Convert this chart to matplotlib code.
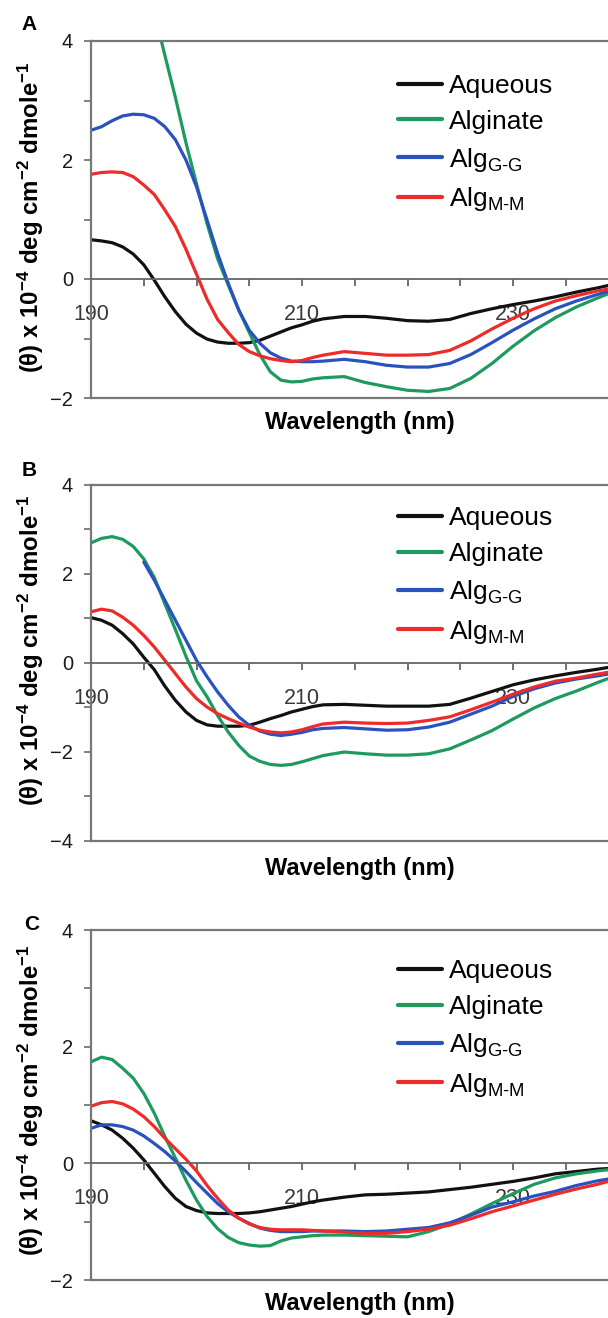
import numpy as np
import matplotlib
matplotlib.use('Agg')
import matplotlib.pyplot as plt
from matplotlib.ticker import MultipleLocator, FuncFormatter

plt.rcParams['font.family'] = ['Liberation Sans', 'DejaVu Sans']
plt.rcParams['mathtext.fontset'] = 'custom'
plt.rcParams['mathtext.rm'] = 'Liberation Sans'
plt.rcParams['mathtext.it'] = 'Liberation Sans:italic'
plt.rcParams['mathtext.bf'] = 'Liberation Sans:bold'

# wavelengths (nm) shared by all curves
wavelength = list(range(190, 213)) + list(range(214, 239, 2)) + [239]

series_names = ['Aqueous', 'Alginate', r'Alg$_{\mathrm{G\text{-}G}}$', r'Alg$_{\mathrm{M\text{-}M}}$']
series_colors = ['#111111', '#1e9a5e', '#2a52be', '#ee2a2a']
nan = np.nan

# Panel A
aqueous_a = [0.66, 0.64, 0.61, 0.54, 0.42, 0.24, -0.02, -0.30, -0.55, -0.76, -0.91, -1.01, -1.06,
             -1.08, -1.08, -1.07, -1.03, -0.96, -0.89, -0.82, -0.77, -0.71, -0.67,
             -0.63, -0.63, -0.66, -0.70, -0.71, -0.68, -0.58, -0.50, -0.43, -0.37, -0.30, -0.22, -0.15,
             -0.11]
alginate_a = [nan, nan, nan, nan, nan, nan, 4.49, 3.76, 3.05, 2.29, 1.60, 0.93, 0.34,
              -0.10, -0.52, -0.90, -1.27, -1.56, -1.70, -1.73, -1.72, -1.68, -1.66,
              -1.64, -1.74, -1.81, -1.87, -1.89, -1.84, -1.67, -1.42, -1.13, -0.87, -0.65, -0.47, -0.32,
              -0.25]
gg_a = [2.50, 2.56, 2.66, 2.74, 2.77, 2.76, 2.70, 2.56, 2.34, 2.00, 1.55, 0.99, 0.43,
        -0.07, -0.52, -0.86, -1.08, -1.24, -1.33, -1.38, -1.39, -1.39, -1.38,
        -1.35, -1.39, -1.45, -1.48, -1.48, -1.42, -1.27, -1.07, -0.86, -0.67, -0.50, -0.37, -0.26,
        -0.21]
mm_a = [1.76, 1.79, 1.80, 1.79, 1.72, 1.58, 1.42, 1.16, 0.88, 0.50, 0.08, -0.34, -0.68,
        -0.90, -1.10, -1.22, -1.29, -1.34, -1.37, -1.39, -1.37, -1.32, -1.28,
        -1.22, -1.25, -1.28, -1.28, -1.27, -1.20, -1.04, -0.84, -0.66, -0.50, -0.37, -0.28, -0.20,
        -0.17]

# Panel B
aqueous_b = [1.02, 0.96, 0.85, 0.66, 0.43, 0.13, -0.15, -0.52, -0.84, -1.10, -1.29, -1.39, -1.42,
             -1.42, -1.42, -1.40, -1.33, -1.25, -1.18, -1.10, -1.04, -0.98, -0.94,
             -0.93, -0.95, -0.97, -0.97, -0.97, -0.93, -0.79, -0.64, -0.49, -0.38, -0.29, -0.21, -0.14,
             -0.10]
alginate_b = [2.70, 2.80, 2.84, 2.78, 2.62, 2.34, 1.92, 1.33, 0.75, 0.15, -0.40, -0.76, -1.18,
              -1.55, -1.85, -2.09, -2.21, -2.28, -2.30, -2.28, -2.22, -2.15, -2.08,
              -2.00, -2.04, -2.07, -2.07, -2.04, -1.93, -1.73, -1.52, -1.26, -1.01, -0.80, -0.63, -0.44,
              -0.35]
gg_b = [nan, nan, nan, nan, nan, 2.27, 1.86, 1.41, 0.96, 0.51, 0.06, -0.31, -0.65,
        -0.95, -1.21, -1.40, -1.53, -1.60, -1.63, -1.60, -1.56, -1.50, -1.47,
        -1.45, -1.48, -1.51, -1.50, -1.44, -1.33, -1.15, -0.97, -0.75, -0.58, -0.45, -0.36, -0.29,
        -0.25]
mm_b = [1.15, 1.21, 1.17, 1.03, 0.85, 0.62, 0.36, 0.06, -0.24, -0.54, -0.80, -0.99, -1.14,
        -1.25, -1.35, -1.44, -1.51, -1.55, -1.57, -1.55, -1.50, -1.43, -1.37,
        -1.33, -1.35, -1.36, -1.35, -1.29, -1.21, -1.05, -0.88, -0.70, -0.54, -0.41, -0.34, -0.25,
        -0.21]

# Panel C
aqueous_c = [0.73, 0.66, 0.57, 0.43, 0.26, 0.06, -0.17, -0.40, -0.60, -0.74, -0.81, -0.85, -0.86,
             -0.86, -0.86, -0.85, -0.83, -0.80, -0.77, -0.74, -0.70, -0.66, -0.63,
             -0.58, -0.54, -0.53, -0.51, -0.49, -0.45, -0.41, -0.36, -0.31, -0.25, -0.18, -0.14, -0.10,
             -0.09]
alginate_c = [1.74, 1.82, 1.78, 1.63, 1.46, 1.20, 0.86, 0.46, 0.09, -0.29, -0.63, -0.91, -1.12,
              -1.27, -1.36, -1.40, -1.42, -1.41, -1.33, -1.28, -1.26, -1.24, -1.23,
              -1.23, -1.24, -1.25, -1.26, -1.17, -1.04, -0.87, -0.69, -0.52, -0.36, -0.25, -0.18, -0.13,
              -0.11]
gg_c = [0.60, 0.66, 0.66, 0.63, 0.57, 0.47, 0.34, 0.20, 0.04, -0.14, -0.33, -0.51, -0.69,
        -0.83, -0.94, -1.03, -1.11, -1.15, -1.17, -1.17, -1.17, -1.16, -1.16,
        -1.16, -1.17, -1.16, -1.13, -1.10, -1.02, -0.89, -0.75, -0.66, -0.56, -0.48, -0.38, -0.30,
        -0.27]
mm_c = [0.98, 1.04, 1.06, 1.02, 0.93, 0.80, 0.63, 0.43, 0.25, 0.07, -0.13, -0.38, -0.60,
        -0.80, -0.94, -1.04, -1.10, -1.13, -1.14, -1.14, -1.14, -1.15, -1.16,
        -1.18, -1.20, -1.20, -1.17, -1.13, -1.06, -0.95, -0.83, -0.73, -0.63, -0.53, -0.44, -0.36,
        -0.31]

panels = [
    ('A', [aqueous_a, alginate_a, gg_a, mm_a], (-2, 4)),
    ('B', [aqueous_b, alginate_b, gg_b, mm_b], (-4, 4)),
    ('C', [aqueous_c, alginate_c, gg_c, mm_c], (-2, 4)),
]

# layout (figure pixels at dpi 100)
W, H = 608, 1318
ax_boxes = [(41, 398), (485, 841), (930, 1280)]   # top, bottom in pixels
left_px = 91
legend_top = [0.908, 0.941, 0.917]
xlabel_gap = [13, 16, 12]
ylabel_mid = [0.507, 0.537, 0.514]
letter_pos = [(29, 25), (29, 470), (32, 925)]

gray = '#777777'
fig = plt.figure(figsize=(W / 100, H / 100), dpi=100)

ylabel = r'(θ) x 10$^{\mathbf{-4}}$ deg cm$^{\mathbf{-2}}$ dmole$^{\mathbf{-1}}$'

for i, (letter, curves, ylim) in enumerate(panels):
    top, bottom = ax_boxes[i]
    ax = fig.add_axes([left_px / W, 1 - bottom / H, 1 - left_px / W, (bottom - top) / H])
    for vals, name, col in zip(curves, series_names, series_colors):
        ax.plot(wavelength, vals, color=col, lw=2.3, label=name, solid_capstyle='round')

    ax.set_xlim(190, 239.0)
    ax.set_ylim(*ylim)

    # zero axis carries the wavelength ticks
    ax.spines['bottom'].set_position(('data', 0))
    ax.spines['bottom'].set_color('#666666')
    ax.spines['bottom'].set_linewidth(1.3)
    ax.spines['right'].set_visible(False)
    for s in ['left', 'top']:
        ax.spines[s].set_color(gray)
        ax.spines[s].set_linewidth(1.6)
    ax.axhline(ylim[0], color=gray, lw=1.6, clip_on=False)

    ax.xaxis.set_major_locator(MultipleLocator(5))
    ax.xaxis.set_major_formatter(FuncFormatter(
        lambda v, p: f'{v:.0f}' if round(v) % 20 == 10 else ''))
    ax.tick_params(axis='x', direction='out', length=5, width=1.3, color='#666666',
                   labelsize=15.5, labelcolor='#3a3a3a', pad=13)

    ax.yaxis.set_major_locator(MultipleLocator(2))
    ax.yaxis.set_minor_locator(MultipleLocator(1))
    ax.tick_params(axis='y', which='both', direction='out', length=5, width=1.3,
                   color=gray, labelsize=14.5, labelcolor='#1a1a1a', pad=8)

    ax.set_xlabel('Wavelength (nm)', fontsize=17, fontweight='bold')
    ax.xaxis.set_label_coords(0.52, -xlabel_gap[i] / (bottom - top))
    ax.set_ylabel(ylabel, fontsize=17.3, fontweight='bold')
    ax.yaxis.set_label_coords(-45 / (W - left_px), ylabel_mid[i])

    leg = ax.legend(loc='upper left', bbox_to_anchor=(0.594, legend_top[i]), frameon=False,
                    fontsize=19, handlelength=1.67, handletextpad=0.25, labelspacing=0.45,
                    borderpad=0, borderaxespad=0)
    for h in leg.get_lines():
        h.set_linewidth(3)

    fig.text(letter_pos[i][0] / W, 1 - letter_pos[i][1] / H, letter, fontsize=15,
             fontweight='bold', ha='center', va='center')

fig.savefig('out.png', dpi=100)
